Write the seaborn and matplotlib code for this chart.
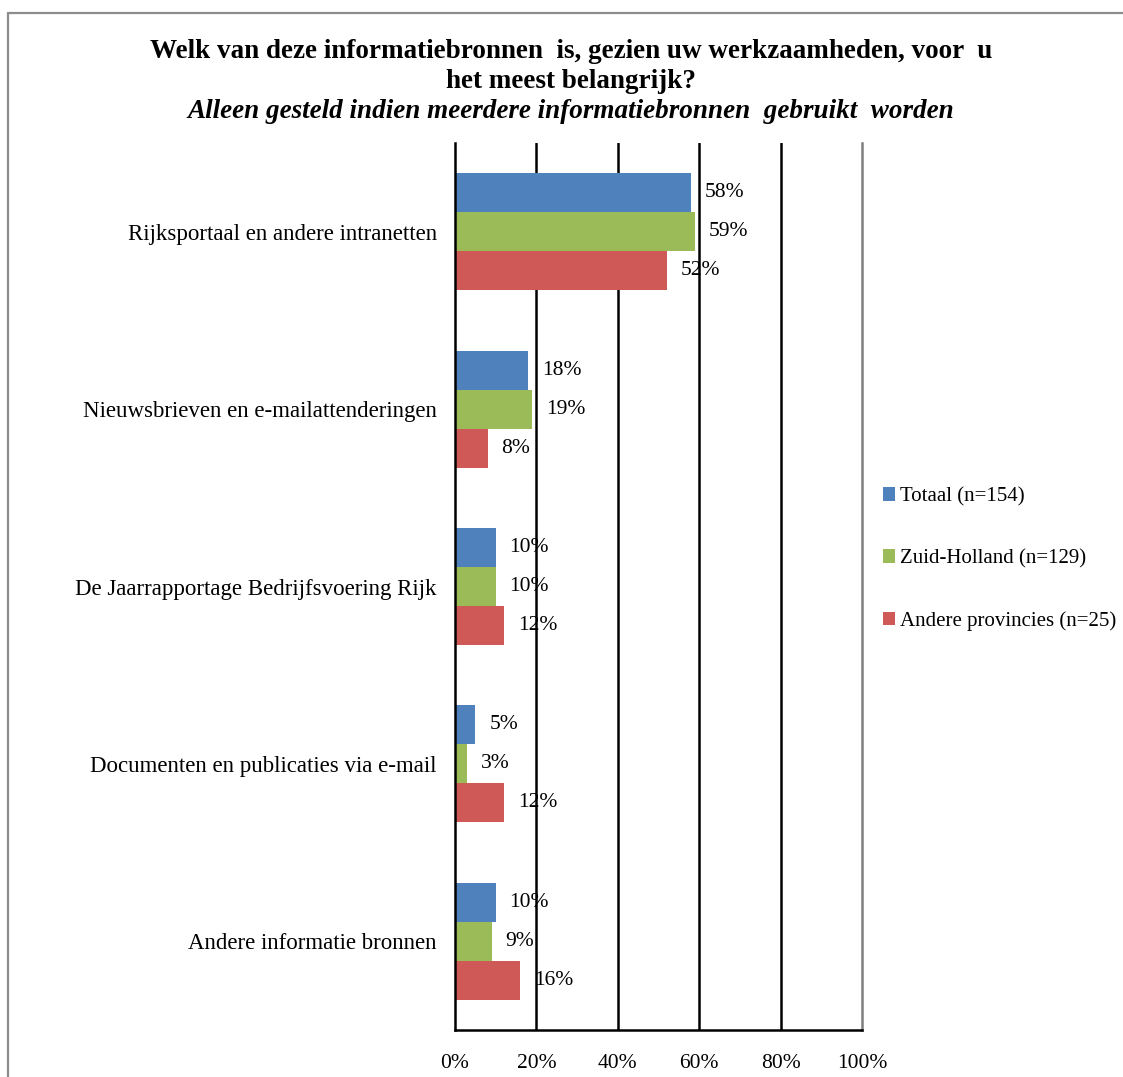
import matplotlib
matplotlib.use("Agg")
import matplotlib.pyplot as plt
from matplotlib.lines import Line2D
from matplotlib.patches import Patch
import seaborn as sns
import pandas as pd

categories = [
    "Rijksportaal en andere intranetten",
    "Nieuwsbrieven en e-mailattenderingen",
    "De Jaarrapportage Bedrijfsvoering Rijk",
    "Documenten en publicaties via e-mail",
    "Andere informatie bronnen",
]
series = ["Totaal (n=154)", "Zuid-Holland (n=129)", "Andere provincies (n=25)"]
totaal = [58, 18, 10, 5, 10]
zuid_holland = [59, 19, 10, 3, 9]
andere_prov = [52, 8, 12, 12, 16]
xticks = [0, 20, 40, 60, 80, 100]
xticklabels = ["0%", "20%", "40%", "60%", "80%", "100%"]
colors = ["#4F81BD", "#9BBB59", "#CF5957"]

rows = []
for s, vals in zip(series, [totaal, zuid_holland, andere_prov]):
    for c, v in zip(categories, vals):
        rows.append({"cat": c, "series": s, "value": v})
df = pd.DataFrame(rows)

sns.set_style("white")
plt.rcParams["font.family"] = ["Liberation Serif", "DejaVu Serif"]
plt.rcParams["text.color"] = "black"
plt.rcParams["xtick.color"] = "black"
plt.rcParams["ytick.color"] = "black"
plt.rcParams["axes.labelcolor"] = "black"

W, H = 1123, 1077
fig = plt.figure(figsize=(W / 100, H / 100), dpi=100)
ax = fig.add_axes([455 / W, 1 - 1030 / H, (862 - 455) / W, (1030 - 143) / H])

sns.barplot(data=df, y="cat", x="value", hue="series", order=categories,
            hue_order=series, palette=colors, orient="h", width=0.66,
            gap=0, saturation=1, ax=ax, legend=False, errorbar=None,
            linewidth=0)

ax.set_xlim(0, 100)
ax.set_xticks(xticks)
ax.set_xticklabels(xticklabels, fontsize=15.5)
ax.set_xlabel("")
ax.set_ylabel("")
ax.tick_params(axis="y", length=0, labelsize=16.5, pad=13)
ax.tick_params(axis="x", length=0, pad=17)

for xv in xticks[1:-1]:
    ax.axvline(xv, color="black", lw=1.8, zorder=0)
ax.spines["top"].set_visible(False)
ax.spines["left"].set_color("black")
ax.spines["left"].set_linewidth(1.8)
ax.spines["bottom"].set_color("black")
ax.spines["bottom"].set_linewidth(1.8)
ax.spines["right"].set_color("#7f7f7f")
ax.spines["right"].set_linewidth(1.8)

for cont in ax.containers:
    labels = [f"{v:.0f}%" for v in cont.datavalues]
    ax.bar_label(cont, labels=labels, padding=10, fontsize=15.5)

# legend
handles = [Patch(facecolor=c, edgecolor="none") for c in colors]
fig.legend(handles, series, loc="center left",
           bbox_to_anchor=(864 / W, 1 - 559 / H), frameon=False,
           fontsize=15, handlelength=0.6, handleheight=0.6,
           handletextpad=0.25, labelspacing=2.05)

# title
fig.text(571 / W, 1 - 51 / H,
         "Welk van deze informatiebronnen  is, gezien uw werkzaamheden, voor  u",
         ha="center", va="center", fontsize=19.5, fontweight="bold")
fig.text(571 / W, 1 - 81 / H, "het meest belangrijk?",
         ha="center", va="center", fontsize=19.5, fontweight="bold")
fig.text(571 / W, 1 - 112 / H,
         "Alleen gesteld indien meerdere informatiebronnen  gebruikt  worden",
         ha="center", va="center", fontsize=19.5, fontweight="bold", style="italic")

# outer frame
fig.add_artist(Line2D([8 / W, 1], [1 - 13 / H, 1 - 13 / H], color="#8c8c8c", lw=1.6))
fig.add_artist(Line2D([8 / W, 8 / W], [0, 1 - 13 / H], color="#8c8c8c", lw=1.6))

fig.savefig("out.png", dpi=100)
